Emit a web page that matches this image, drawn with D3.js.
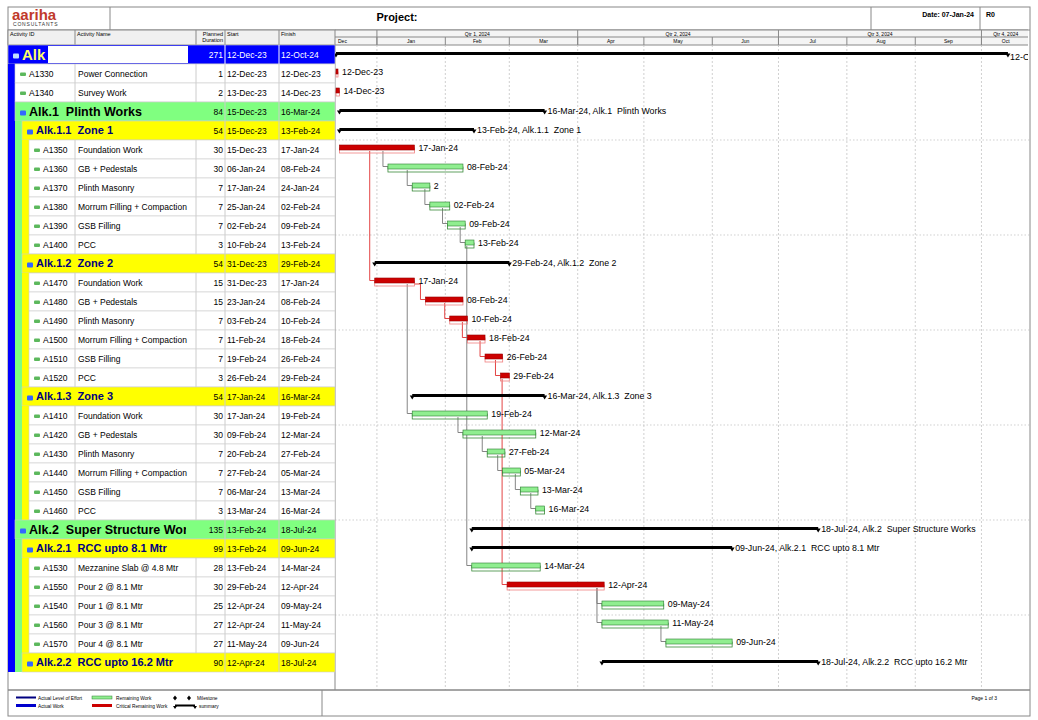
<!DOCTYPE html>
<html><head><meta charset="utf-8">
<script src="https://cdn.jsdelivr.net/npm/d3@7/dist/d3.min.js"></script>
<style>body{margin:0;background:#fff;font-family:Arial,"Liberation Sans",sans-serif}</style>
</head><body>
<script>
// ---- data ----
const ids = ["Alk","A1330","A1340","Alk.1","Alk.1.1","A1350","A1360","A1370","A1380","A1390","A1400",
  "Alk.1.2","A1470","A1480","A1490","A1500","A1510","A1520",
  "Alk.1.3","A1410","A1420","A1430","A1440","A1450","A1460",
  "Alk.2","Alk.2.1","A1530","A1550","A1540","A1560","A1570","Alk.2.2"];
const names = ["","Power Connection","Survey Work","Plinth Works","Zone 1","Foundation Work","GB + Pedestals","Plinth Masonry","Morrum Filling + Compaction","GSB Filling","PCC",
  "Zone 2","Foundation Work","GB + Pedestals","Plinth Masonry","Morrum Filling + Compaction","GSB Filling","PCC",
  "Zone 3","Foundation Work","GB + Pedestals","Plinth Masonry","Morrum Filling + Compaction","GSB Filling","PCC",
  "Super Structure Works","RCC upto 8.1 Mtr","Mezzanine Slab @ 4.8 Mtr","Pour 2 @ 8.1 Mtr","Pour 1 @ 8.1 Mtr","Pour 3 @ 8.1 Mtr","Pour 4 @ 8.1 Mtr","RCC upto 16.2 Mtr"];
const durations = [271,1,2,84,54,30,30,7,7,7,3,54,15,15,7,7,7,3,54,30,30,7,7,7,3,135,99,28,30,25,27,27,90];
const starts = ["12-Dec-23","12-Dec-23","13-Dec-23","15-Dec-23","15-Dec-23","15-Dec-23","06-Jan-24","17-Jan-24","25-Jan-24","02-Feb-24","10-Feb-24",
  "31-Dec-23","31-Dec-23","23-Jan-24","03-Feb-24","11-Feb-24","19-Feb-24","26-Feb-24",
  "17-Jan-24","17-Jan-24","09-Feb-24","20-Feb-24","27-Feb-24","06-Mar-24","13-Mar-24",
  "13-Feb-24","13-Feb-24","13-Feb-24","29-Feb-24","12-Apr-24","12-Apr-24","11-May-24","12-Apr-24"];
const finishes = ["12-Oct-24","12-Dec-23","14-Dec-23","16-Mar-24","13-Feb-24","17-Jan-24","08-Feb-24","24-Jan-24","02-Feb-24","09-Feb-24","13-Feb-24",
  "29-Feb-24","17-Jan-24","08-Feb-24","10-Feb-24","18-Feb-24","26-Feb-24","29-Feb-24",
  "16-Mar-24","19-Feb-24","12-Mar-24","27-Feb-24","05-Mar-24","13-Mar-24","16-Mar-24",
  "18-Jul-24","09-Jun-24","14-Mar-24","12-Apr-24","09-May-24","11-May-24","09-Jun-24","18-Jul-24"];
// 0 = project, 1 = wbs level 1, 2 = wbs level 2, 3 = activity
const levels = [0,3,3,1,2,3,3,3,3,3,3,2,3,3,3,3,3,3,2,3,3,3,3,3,3,1,2,3,3,3,3,3,2];
const critical = ["A1330","A1340","A1350","A1470","A1480","A1490","A1500","A1510","A1520","A1550"];
const barLabels = {"A1370":"2"};
const links = [["A1350","A1360"],["A1360","A1370"],["A1370","A1380"],["A1380","A1390"],["A1390","A1400"],
  ["A1350","A1470"],["A1470","A1480"],["A1480","A1490"],["A1490","A1500"],["A1500","A1510"],["A1510","A1520"],
  ["A1470","A1410"],["A1400","A1530"],["A1410","A1420"],["A1420","A1430"],["A1430","A1440"],["A1440","A1450"],["A1450","A1460"],
  ["A1520","A1550"],["A1550","A1540"],["A1550","A1560"],["A1560","A1570"]];
const quarters = [["Qtr 1, 2024","2024-01-01","2024-04-01"],["Qtr 2, 2024","2024-04-01","2024-07-01"],
  ["Qtr 3, 2024","2024-07-01","2024-10-01"],["Qtr 4, 2024","2024-10-01","2024-12-31"]];

const parse = d3.timeParse("%d-%b-%y");
const rows = ids.map((id,i)=>({id,name:names[i],dur:durations[i],start:parse(starts[i]),finish:parse(finishes[i]),
  s:starts[i],f:finishes[i],level:levels[i],crit:critical.includes(id)}));

const W=1038,H=720, L=8, R=1030, G=335, T0=45, rh=19, SW=7;
const svg=d3.select("body").append("svg").attr("width",W).attr("height",H);
const x=d3.scaleTime().domain([new Date(2023,11,13),new Date(2024,9,23)]).range([G,R]);
const y=d3.scaleBand().domain(ids).range([T0,T0+rh*ids.length]);
const cols=[8,75,196,225,279,335];

svg.append("defs").append("clipPath").attr("id","gc").append("rect").attr("x",G).attr("y",0).attr("width",R-G-2).attr("height",H);

// header
const hd=svg.append("g").attr("stroke","#888").attr("fill","none");
hd.append("rect").attr("x",L).attr("y",7).attr("width",R-L).attr("height",H-11);
hd.append("line").attr("x1",L).attr("x2",R).attr("y1",30).attr("y2",30);
[110,871,980].forEach(v=>hd.append("line").attr("x1",v).attr("x2",v).attr("y1",7).attr("y2",30));
svg.append("text").attr("x",12).attr("y",20).attr("fill","#c0392b").attr("font-size",15).attr("font-weight","bold").text("aariha");
svg.append("text").attr("x",13).attr("y",26).attr("fill","#333").attr("font-size",5).attr("letter-spacing",0.8).text("CONSULTANTS");
svg.append("text").attr("x",397).attr("y",21).attr("text-anchor","middle").attr("font-size",11).attr("font-weight","bold").text("Project:");
svg.append("text").attr("x",974).attr("y",17).attr("text-anchor","end").attr("font-size",7).attr("font-weight","bold").text("Date: 07-Jan-24");
svg.append("text").attr("x",986).attr("y",17).attr("font-size",7).attr("font-weight","bold").text("R0");

// column headers
svg.append("rect").attr("x",L).attr("y",30).attr("width",G-L).attr("height",15).attr("fill","#f0f0f0").attr("stroke","#888");
["Activity ID","Activity Name","","Start","Finish"].forEach((t,i)=>svg.append("text").attr("x",cols[i]+2).attr("y",36).attr("font-size",5.5).text(t));
svg.append("text").attr("x",223).attr("y",36).attr("text-anchor","end").attr("font-size",5.5).text("Planned");
svg.append("text").attr("x",223).attr("y",42).attr("text-anchor","end").attr("font-size",5.5).text("Duration");
cols.slice(1,5).forEach(c=>svg.append("line").attr("x1",c).attr("x2",c).attr("y1",30).attr("y2",45).attr("stroke","#888"));

// timescale header
const th=svg.append("g").attr("clip-path","url(#gc)");
th.append("rect").attr("x",G).attr("y",30).attr("width",R-G).attr("height",15).attr("fill","#f4f4f4").attr("stroke","#888");
th.append("line").attr("x1",G).attr("x2",R).attr("y1",37).attr("y2",37).attr("stroke","#888");
quarters.forEach(q=>{const a=x(new Date(q[1]+"T00:00")),b=Math.min(x(new Date(q[2]+"T00:00")),R);
  th.append("line").attr("x1",a).attr("x2",a).attr("y1",30).attr("y2",45).attr("stroke","#888");
  th.append("text").attr("x",(a+b)/2).attr("y",35.5).attr("text-anchor","middle").attr("font-size",5).text(q[0]);});
const months=d3.timeMonth.range(new Date(2023,11,1),new Date(2024,10,1));
months.forEach(m=>{const a=Math.max(x(m),G),b=Math.min(x(d3.timeMonth.offset(m,1)),R);
  th.append("line").attr("x1",x(m)).attr("x2",x(m)).attr("y1",37).attr("y2",45).attr("stroke","#888");
  th.append("text").attr("x",m.getMonth()==11?G+3:(a+b)/2).attr("y",43).attr("text-anchor",m.getMonth()==11?"start":"middle").attr("font-size",5).text(d3.timeFormat("%b")(m));});

// grid in gantt area
const gridBottom=T0+rh*ids.length+18;
months.slice(1).forEach(m=>svg.append("line").attr("x1",x(m)).attr("x2",x(m)).attr("y1",45).attr("y2",gridBottom)
  .attr("stroke","#bbb").attr("stroke-dasharray","2,2").attr("stroke-width",0.7));
for(let i=5;i<ids.length;i+=5){svg.append("line").attr("x1",G).attr("x2",R).attr("y1",y(ids[i])).attr("y2",y(ids[i]))
  .attr("stroke","#bbb").attr("stroke-dasharray","1.5,2").attr("stroke-width",0.7);}
svg.append("line").attr("x1",G).attr("x2",G).attr("y1",45).attr("y2",gridBottom).attr("stroke","#888");

// table rows
const bgc=["#0000ff","#80ff80","#ffff00","#ffffff"];
rows.forEach((r,i)=>{
  const yy=y(r.id), g=svg.append("g");
  const strip=[];
  for(let k=i;k>=0;k--){ const lv=rows[k].level; if(lv<r.level && strip[lv]===undefined) strip[lv]=bgc[lv]; }
  const ind=r.level==3?strip.length:r.level;
  for(let l=0;l<ind;l++) g.append("rect").attr("x",L+l*SW).attr("y",yy).attr("width",SW).attr("height",rh).attr("fill",strip[l]||"#fff");
  const x0=L+ind*SW;
  g.append("rect").attr("x",x0).attr("y",yy).attr("width",G-x0).attr("height",rh).attr("fill",bgc[r.level]).attr("stroke","#ccc").attr("stroke-width",0.6);
  cols.slice(1,5).forEach(c=>{ if(r.level==3||c>196) g.append("line").attr("x1",c).attr("x2",c).attr("y1",yy).attr("y2",yy+rh).attr("stroke",r.level==0?"#fff":"#ccc");});
  const wbs=r.level<3;
  const fs=r.level==0?15:r.level==1?12.5:r.level==2?11:8.5;
  const tc=r.level==0?"#ffff66":r.level==1?"#000":r.level==2?"#000080":"#000";
  if(r.level==0) g.append("rect").attr("x",48).attr("y",yy+1).attr("width",140).attr("height",rh-2).attr("fill","#fff");
  g.append("rect").attr("x",x0+5).attr("y",yy+rh/2-1).attr("width",6).attr("height",wbs?5:3.5)
    .attr("fill",wbs?(r.level==0?"#c0e0ff":"#3366ff"):"#5cb85c").attr("rx",1);
  const label=wbs?(r.level==0?r.id:r.id+"\u00a0\u00a0"+r.name):r.id;
  const clip="c"+i;
  svg.append("clipPath").attr("id",clip).append("rect").attr("x",x0).attr("y",yy).attr("width",(wbs?186:75)-x0).attr("height",rh);
  g.append("text").attr("clip-path",`url(#${clip})`).attr("x",x0+14).attr("y",yy+rh/2+fs*0.36).attr("font-size",fs)
    .attr("font-weight",wbs?"bold":"normal").attr("fill",tc).text(label);
  if(!wbs) g.append("text").attr("x",78).attr("y",yy+13).attr("font-size",8.5).text(r.name);
  const vc=r.level==0?"#fff":"#000";
  g.append("text").attr("x",223).attr("y",yy+13).attr("text-anchor","end").attr("font-size",8.5).attr("fill",vc).text(r.dur);
  g.append("text").attr("x",227).attr("y",yy+13).attr("font-size",8.5).attr("fill",vc).text(r.s);
  g.append("text").attr("x",281).attr("y",yy+13).attr("font-size",8.5).attr("fill",vc).text(r.f);
});
svg.append("line").attr("x1",L).attr("x2",R).attr("y1",gridBottom).attr("y2",gridBottom).attr("stroke","#888");

// links
const byId=Object.fromEntries(rows.map(r=>[r.id,r]));
const bx1=r=>x(d3.timeDay.offset(r.finish,1));
const lg=svg.append("g").attr("fill","none").attr("clip-path","url(#gc)");
links.forEach(([a,b])=>{
  const p=byId[a],s=byId[b],xs=x(s.start),vx=xs-5;
  const py=y(p.id)+11,sy=y(s.id)+7.5;
  const sx=Math.min(bx1(p),vx);
  lg.append("path").attr("d",`M${sx},${py}H${vx}V${sy}H${xs}`)
    .attr("stroke",p.crit&&s.crit?"#e03030":"#777").attr("stroke-width",0.9);
});

// bars
const bg=svg.append("g").attr("clip-path","url(#gc)");
rows.forEach(r=>{
  const yy=y(r.id), x0=Math.max(x(r.start),G+1), x1=Math.max(bx1(r),G+3);
  if(r.level<3){
    const ly=yy+rh/2-1;
    bg.append("rect").attr("x",x0).attr("y",ly-1.5).attr("width",x1-x0).attr("height",3).attr("fill","#000");
    [x0,x1].forEach(v=>bg.append("path").attr("d",`M${v-2.5},${ly}L${v+2.5},${ly}L${v},${ly+4}Z`).attr("fill","#000"));
    const t=r.level==0?r.f:`${r.f}, ${r.id}\u00a0\u00a0${r.name}`;
    if(r.level==0) bg.append("text").attr("x",x1+2).attr("y",ly+6).attr("font-size",9).text(t);
    else bg.append("text").attr("x",x1+3).attr("y",ly+3).attr("font-size",8.8).text(t);
  } else {
    const c=r.crit;
    bg.append("rect").attr("x",x0).attr("y",yy+8).attr("width",x1-x0).attr("height",5)
      .attr("fill","none").attr("stroke",c?"#f08080":"#3a8a3a").attr("stroke-width",0.8);
    bg.append("rect").attr("x",x0).attr("y",yy+5).attr("width",x1-x0).attr("height",5)
      .attr("fill",c?"#cc0000":"#90ee90").attr("stroke",c?"#990000":"#2e7d32").attr("stroke-width",0.6);
    bg.append("text").attr("x",x1+4).attr("y",yy+11).attr("font-size",8.8).text(barLabels[r.id]||r.f);
  }
});

// legend
const lgY=690;
svg.append("line").attr("x1",L).attr("x2",R).attr("y1",lgY).attr("y2",lgY).attr("stroke","#888");
svg.append("line").attr("x1",322).attr("x2",322).attr("y1",lgY).attr("y2",716).attr("stroke","#888");
const leg=[["Actual Level of Effort",12,698,"loe"],["Actual Work",12,706,"aw"],["Remaining Work",92,698,"rw"],["Critical Remaining Work",92,706,"crw"],["Milestone",175,698,"ms"],["summary",175,706,"sum"]];
leg.forEach(([t,lx,ly,k])=>{
  if(k=="loe") svg.append("rect").attr("x",lx+4).attr("y",ly-1.5).attr("width",20).attr("height",2).attr("fill","#000080");
  if(k=="aw") svg.append("rect").attr("x",lx+4).attr("y",ly-2).attr("width",20).attr("height",3).attr("fill","#0000cc");
  if(k=="rw") svg.append("rect").attr("x",lx).attr("y",ly-2).attr("width",20).attr("height",3).attr("fill","#90ee90").attr("stroke","#2e7d32").attr("stroke-width",0.5);
  if(k=="crw") svg.append("rect").attr("x",lx).attr("y",ly-2).attr("width",20).attr("height",3).attr("fill","#cc0000");
  if(k=="ms"){[lx,lx+14].forEach(v=>svg.append("path").attr("d",`M${v},${ly-2.5}L${v+2},${ly}L${v},${ly+2.5}L${v-2},${ly}Z`));}
  if(k=="sum"){svg.append("rect").attr("x",lx).attr("y",ly-1.5).attr("width",20).attr("height",2);
    [lx,lx+20].forEach(v=>svg.append("path").attr("d",`M${v-2},${ly}L${v+2},${ly}L${v},${ly+3}Z`));}
  const tx=k=="loe"||k=="aw"?lx+26:k=="ms"?lx+22:lx+24;
  svg.append("text").attr("x",tx).attr("y",ly+2).attr("font-size",4.8).text(t);
});
svg.append("text").attr("x",997).attr("y",700).attr("text-anchor","end").attr("font-size",5).text("Page 1 of 3");
</script>
</body></html>
